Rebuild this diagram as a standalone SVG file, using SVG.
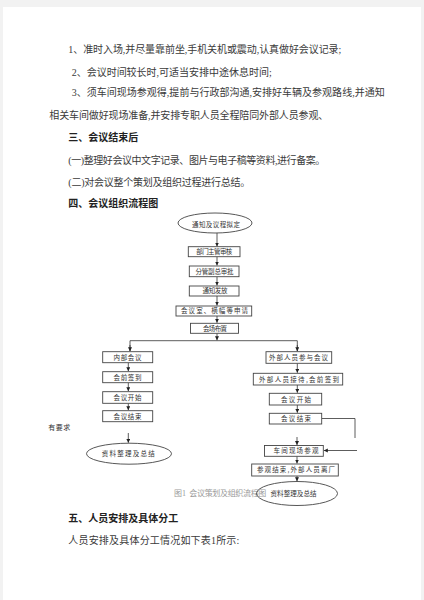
<svg xmlns="http://www.w3.org/2000/svg" width="424" height="600" viewBox="0 0 424 600">
<defs>
<style>
.t{font-family:"Liberation Serif","Noto Sans CJK SC",serif;font-size:10px;fill:#3a3a3a}
.h{font-family:"Liberation Serif","Noto Sans CJK SC",serif;font-size:10px;font-weight:bold;fill:#222}
.n{font-family:"Noto Sans CJK SC",sans-serif;font-size:6.5px;fill:#333;text-anchor:middle}
.box{fill:#fff;stroke:#444;stroke-width:0.9}
.ell{fill:none;stroke:#444;stroke-width:0.9}
.c{fill:none;stroke:#333;stroke-width:0.8}
.cap{font-family:"Liberation Serif","Noto Sans CJK SC",serif;font-size:8px;fill:#9a9a9a}
</style>
<marker id="ah" markerUnits="userSpaceOnUse" markerWidth="5" markerHeight="5" refX="4" refY="2" orient="auto">
<path d="M0,0 L4,2 L0,4 Z" fill="#222"/>
</marker>
</defs>
<rect x="0" y="0" width="424" height="600" fill="#f2f2f2"/>
<rect x="3" y="7" width="418" height="593" fill="#fff"/>

<g id="body-text">
<text class="t" x="68.3" y="53" textLength="273" lengthAdjust="spacing">1、准时入场,并尽量靠前坐,手机关机或震动,认真做好会议记录;</text>
<text class="t" x="71.7" y="75.5" textLength="200" lengthAdjust="spacing">2、会议时间较长时,可适当安排中途休息时间;</text>
<text class="t" x="71.7" y="95.5" textLength="313" lengthAdjust="spacing">3、须车间现场参观得,提前与行政部沟通,安排好车辆及参观路线,并通知</text>
<text class="t" x="49.3" y="119" textLength="279" lengthAdjust="spacing">相关车间做好现场准备,并安排专职人员全程陪同外部人员参观、</text>
<text class="h" x="68.3" y="140.5" textLength="70" lengthAdjust="spacing">三、会议结束后</text>
<text class="t" x="68.3" y="164" textLength="257" lengthAdjust="spacing">(一)整理好会议中文字记录、图片与电子稿等资料,进行备案。</text>
<text class="t" x="68.3" y="185.5" textLength="182" lengthAdjust="spacing">(二)对会议整个策划及组织过程进行总结。</text>
<text class="h" x="68.3" y="207" textLength="90" lengthAdjust="spacing">四、会议组织流程图</text>
<text class="h" x="68.3" y="522" textLength="110" lengthAdjust="spacing">五、人员安排及具体分工</text>
<text class="t" x="68.3" y="544" textLength="171" lengthAdjust="spacing">人员安排及具体分工情况如下表1所示:</text>
</g>

<g id="caption">
<text class="cap" x="174" y="496">图1</text>
<text class="cap" x="189.3" y="496" textLength="77" lengthAdjust="spacing">会议策划及组织流程图</text>
</g>

<g id="note">
<text x="48.3" y="430" style="font-family:'Noto Sans CJK SC',sans-serif;font-size:7px;fill:#333" textLength="22" lengthAdjust="spacing">有要求</text>
</g>

<g id="connectors">
<line class="c" x1="217" y1="233" x2="217" y2="246.5" marker-end="url(#ah)"/>
<line class="c" x1="217" y1="256.7" x2="217" y2="265.5" marker-end="url(#ah)"/>
<line class="c" x1="217" y1="276.7" x2="217" y2="285.5" marker-end="url(#ah)"/>
<line class="c" x1="217" y1="296" x2="217" y2="305.5" marker-end="url(#ah)"/>
<line class="c" x1="217" y1="316" x2="217" y2="322.8" marker-end="url(#ah)"/>
<line class="c" x1="217" y1="333.3" x2="217" y2="340.3" marker-end="url(#ah)"/>
<polyline class="c" points="130,351.2 130,340.7 297.3,340.7 297.3,351.2"/>
<line class="c" x1="130" y1="345" x2="130" y2="351.2" marker-end="url(#ah)"/>
<line class="c" x1="297.3" y1="345" x2="297.3" y2="351.2" marker-end="url(#ah)"/>
<line class="c" x1="128.3" y1="362.7" x2="128.3" y2="371.2" marker-end="url(#ah)"/>
<line class="c" x1="128.3" y1="382.7" x2="128.3" y2="391.2" marker-end="url(#ah)"/>
<line class="c" x1="128.3" y1="403.3" x2="128.3" y2="410.2" marker-end="url(#ah)"/>
<line class="c" x1="128.3" y1="433" x2="128.3" y2="442.8" marker-end="url(#ah)"/>
<line class="c" x1="297.3" y1="363.3" x2="297.3" y2="372.8" marker-end="url(#ah)"/>
<line class="c" x1="297.3" y1="385" x2="297.3" y2="392.8" marker-end="url(#ah)"/>
<line class="c" x1="297.3" y1="405" x2="297.3" y2="412.8" marker-end="url(#ah)"/>
<line class="c" x1="297" y1="437" x2="297" y2="445" marker-end="url(#ah)"/>
<line class="c" x1="297" y1="456.3" x2="297" y2="463.5" marker-end="url(#ah)"/>
<line class="c" x1="297" y1="476" x2="297" y2="481.3" marker-end="url(#ah)"/>
<polyline class="c" points="321.7,418.5 355,418.5 355,438"/>
<line class="c" x1="357" y1="450.5" x2="323.8" y2="450.5" marker-end="url(#ah)"/>
</g>

<g id="n-start"><ellipse class="ell" cx="215" cy="223" rx="37" ry="10"/><text class="n" x="216" y="227.3" textLength="48" lengthAdjust="spacing">通知及议程拟定</text></g>
<g id="n-dept"><rect class="box" x="188.3" y="246.7" width="51.7" height="10"/><text class="n" x="214.3" y="254.2" textLength="36" lengthAdjust="spacing">部门主管审核</text></g>
<g id="n-vp"><rect class="box" x="189.3" y="266" width="49.7" height="10.7"/><text class="n" x="214.5" y="273.7" textLength="38" lengthAdjust="spacing">分管副总审批</text></g>
<g id="n-notice"><rect class="box" x="189.3" y="286" width="49.7" height="10"/><text class="n" x="215" y="293.3" textLength="25" lengthAdjust="spacing">通知发放</text></g>
<g id="n-room"><rect class="box" x="176" y="306" width="75.7" height="10"/><text class="n" x="214.5" y="313.3" textLength="67" lengthAdjust="spacing">会议室、横幅等申请</text></g>
<g id="n-venue"><rect class="box" x="190.5" y="323.3" width="48" height="10"/><text class="n" x="215" y="330.8" textLength="24" lengthAdjust="spacing">会场布置</text></g>

<g id="n-internal"><rect class="box" x="102.7" y="351.7" width="50" height="11"/><text class="n" x="127.5" y="359.5" textLength="28" lengthAdjust="spacing">内部会议</text></g>
<g id="n-signin-l"><rect class="box" x="102.7" y="371.7" width="50" height="11"/><text class="n" x="127.5" y="379.5" textLength="28" lengthAdjust="spacing">会前签到</text></g>
<g id="n-start-l"><rect class="box" x="102.7" y="391.7" width="50" height="11.6"/><text class="n" x="127.5" y="399.8" textLength="28" lengthAdjust="spacing">会议开始</text></g>
<g id="n-end-l"><rect class="box" x="102.7" y="410.7" width="50" height="11"/><text class="n" x="127.5" y="418.5" textLength="28" lengthAdjust="spacing">会议结束</text></g>
<g id="n-summary-l"><ellipse class="ell" cx="129" cy="453.7" rx="42.5" ry="10.5"/><text class="n" x="128.3" y="455.5" textLength="53" lengthAdjust="spacing">资料整理及总结</text></g>

<g id="n-external"><rect class="box" x="266" y="351.7" width="65.7" height="11.6"/><text class="n" x="298.5" y="360" textLength="59" lengthAdjust="spacing">外部人员参与会议</text></g>
<g id="n-reception"><rect class="box" x="253.3" y="373.3" width="89.4" height="11.7"/><text class="n" x="299" y="381.5" textLength="80" lengthAdjust="spacing">外部人员接待,会前签到</text></g>
<g id="n-start-r"><rect class="box" x="269.3" y="393.3" width="52.4" height="11.7"/><text class="n" x="296" y="401.5" textLength="30" lengthAdjust="spacing">会议开始</text></g>
<g id="n-end-r"><rect class="box" x="269.3" y="413.3" width="52.4" height="10.7"/><text class="n" x="296" y="421" textLength="30" lengthAdjust="spacing">会议结束</text></g>
<g id="n-visit"><rect class="box" x="264.5" y="445.5" width="58.8" height="10.8"/><text class="n" x="296" y="453.3" textLength="45" lengthAdjust="spacing">车间现场参观</text></g>
<g id="n-leave"><rect class="box" x="251.7" y="464" width="86.6" height="12"/><text class="n" x="296" y="472.3" textLength="78" lengthAdjust="spacing">参观结束,外部人员离厂</text></g>
<g id="n-summary-r"><ellipse class="ell" cx="297" cy="493.5" rx="40.5" ry="12"/><text class="n" x="293.5" y="495.5" textLength="46" lengthAdjust="spacing">资料整理及总结</text></g>
</svg>
